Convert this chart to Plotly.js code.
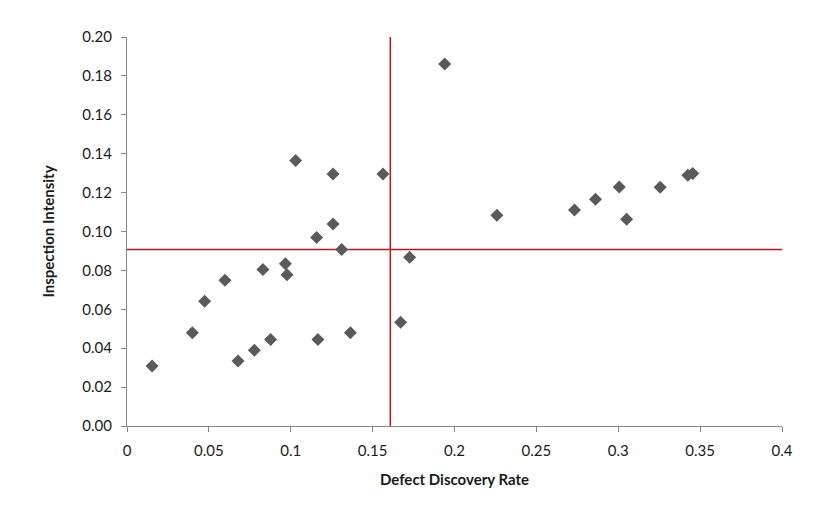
<!DOCTYPE html>
<html>
<head>
<meta charset="utf-8">
<script src="https://cdn.plot.ly/plotly-3.0.1.min.js"></script>
<style>html,body{margin:0;padding:0;background:#fff;}#chart{width:820px;height:505px;}</style>
</head>
<body>
<div id="chart"></div>
<script>
const discoveryRate = [0.0153,0.0399,0.0474,0.0598,0.0678,0.0778,0.0830,0.0877,0.0967,0.0977,0.1158,0.1166,0.1311,0.1364,0.1671,0.1726,0.1940,0.1030,0.1258,0.1563,0.1258,0.2259,0.2733,0.2861,0.3006,0.3051,0.3256,0.3425,0.3455];
const inspectionIntensity = [0.0308,0.0479,0.0642,0.0750,0.0334,0.0390,0.0805,0.0445,0.0834,0.0777,0.0969,0.0445,0.0908,0.0479,0.0533,0.0867,0.1861,0.1365,0.1296,0.1296,0.1038,0.1084,0.1111,0.1166,0.1229,0.1063,0.1228,0.1289,0.1298];
const meanRate = 0.1608;
const meanIntensity = 0.0908;
const xRange = [0, 0.4];
const yRange = [0, 0.2];
const xTicks = [0,0.05,0.1,0.15,0.2,0.25,0.3,0.35,0.4];
const xTickLabels = ['0','0.05','0.1','0.15','0.2','0.25','0.3','0.35','0.4'];
const yTicks = [0,0.02,0.04,0.06,0.08,0.1,0.12,0.14,0.16,0.18,0.2];
const yTickLabels = ['0.00','0.02','0.04','0.06','0.08','0.10','0.12','0.14','0.16','0.18','0.20'];

const red = '#c0141c';
const traces = [
  {x:[meanRate, meanRate], y:yRange, mode:'lines', line:{color:red, width:1.5}, hoverinfo:'skip', showlegend:false, cliponaxis:false},
  {x:xRange, y:[meanIntensity, meanIntensity], mode:'lines', line:{color:red, width:1.5}, hoverinfo:'skip', showlegend:false, cliponaxis:false},
  {x:discoveryRate, y:inspectionIntensity, mode:'markers', type:'scatter',
   marker:{symbol:'diamond', size:10, color:'#5a5a5a'}, showlegend:false, cliponaxis:false}
];
const font = 'Lato, "Open Sans", sans-serif';
const layout = {
  width:820, height:505,
  margin:{l:127, r:38, t:37, b:79},
  paper_bgcolor:'#fff', plot_bgcolor:'#fff',
  font:{family:font, size:15, color:'#1a1a1a'},
  xaxis:{range:xRange, tickvals:xTicks, ticktext:xTickLabels, showgrid:false, zeroline:false,
    showline:true, linecolor:'#878787', linewidth:1, ticks:'outside', ticklen:5, tickcolor:'#878787',
    tickfont:{size:15, color:'#1a1a1a'}, ticklabelstandoff:6,
    title:{text:'<b>Defect Discovery Rate</b>', font:{size:15, color:'#1a1a1a'}, standoff:16}},
  yaxis:{range:yRange, tickvals:yTicks, ticktext:yTickLabels, showgrid:false, zeroline:false,
    showline:true, linecolor:'#878787', linewidth:1, ticks:'outside', ticklen:5, tickcolor:'#878787',
    tickfont:{size:15, color:'#1a1a1a'}, ticklabelstandoff:6,
    title:{text:'<b>Inspection Intensity</b>', font:{size:15, color:'#1a1a1a'}, standoff:24}}
};
Plotly.newPlot('chart', traces, layout, {displayModeBar:false, staticPlot:true});
</script>
</body>
</html>
